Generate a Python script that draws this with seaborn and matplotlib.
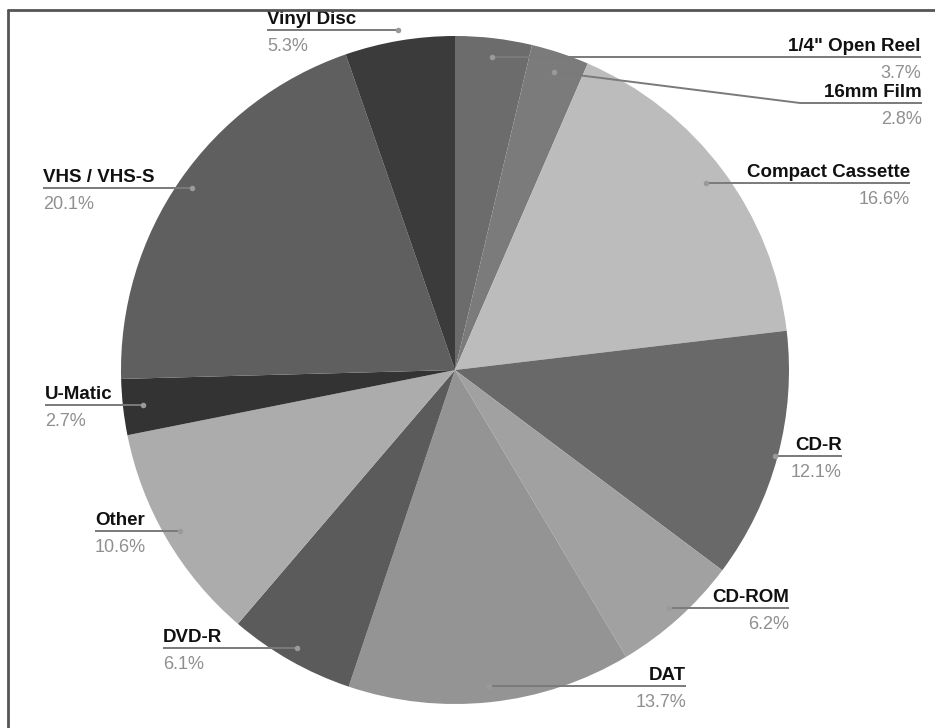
import numpy as np
import seaborn as sns
import matplotlib.pyplot as plt

# Share of holdings by media format (percent), clockwise from 12 o'clock
formats = ['1/4" Open Reel', '16mm Film', 'Compact Cassette', 'CD-R', 'CD-ROM',
           'DAT', 'DVD-R', 'Other', 'U-Matic', 'VHS / VHS-S', 'Vinyl Disc']
shares = [3.7, 2.8, 16.6, 12.1, 6.2, 13.7, 6.1, 10.6, 2.7, 20.1, 5.3]
grays = ['#6c6c6c', '#7b7b7b', '#bcbcbc', '#696969', '#a1a1a1', '#949494',
         '#5b5b5b', '#acacac', '#333333', '#5f5f5f', '#3b3b3b']

# label layout in pixels: (text edge x, underline y, side, knee x or None)
label_layout = {
    '1/4" Open Reel': (921, 57, 'right', None),
    '16mm Film': (922, 103, 'right', 800),
    'Compact Cassette': (910, 183, 'right', None),
    'CD-R': (842, 456, 'right', None),
    'CD-ROM': (789, 608, 'right', None),
    'DAT': (686, 686, 'right', None),
    'DVD-R': (163, 648, 'left', None),
    'Other': (95, 531, 'left', None),
    'U-Matic': (45, 405, 'left', None),
    'VHS / VHS-S': (43, 188, 'left', None),
    'Vinyl Disc': (267, 30, 'left', None),
}

sns.set_theme(style="white")
plt.rcParams['font.family'] = ['Liberation Sans', 'DejaVu Sans']

W, H = 935, 728
CX, CY, R = 455, 370, 334

fig = plt.figure(figsize=(W / 100, H / 100), dpi=100)
ax = fig.add_axes([0, 0, 1, 1])


def px(x, y):
    # pixel position -> data coords
    return (x - CX) / R, (CY - y) / R


wedges, _ = ax.pie(shares, colors=grays, startangle=90, counterclock=False,
                   radius=1.0, center=(0, 0), frame=False,
                   wedgeprops=dict(linewidth=0))
ax.set_xlim(-CX / R, (W - CX) / R)
ax.set_ylim((CY - H) / R, CY / R)
ax.set_aspect('auto')
ax.axis('off')

for w, name, val in zip(wedges, formats, shares):
    mid = np.deg2rad((w.theta1 + w.theta2) / 2)
    ex, uy, side, knee = label_layout[name]
    tx, ty = px(ex, uy)
    if knee is None:
        # dot sits on the slice's mid ray at the underline height
        dy = ty
        dx = dy * np.cos(mid) / np.sin(mid)
        xs, ys = [dx, tx], [dy, ty]
    else:
        dx, dy = 0.94 * np.cos(mid), 0.94 * np.sin(mid)
        kx, _ = px(knee, uy)
        xs, ys = [dx, kx, tx], [dy, ty, ty]
    ha = 'right' if side == 'right' else 'left'
    ax.plot(xs, ys, color='#7a7a7a', lw=1.4, solid_capstyle='butt', zorder=3)
    ax.plot([dx], [dy], 'o', color='#9a9a9a', ms=4, mec='none', zorder=4)
    ax.text(tx, ty + 6 / R, name, ha=ha, va='baseline', fontsize=13.5,
            fontweight='bold', color='#111111', zorder=5)
    ax.text(tx, ty - 21 / R, f'{val:.1f}%', ha=ha, va='baseline', fontsize=13,
            color='#8f8f8f', zorder=5)

# frame lines on left and top edges
fig.add_artist(plt.Line2D([8 / W, 8 / W], [0, 1 - 10 / H], color='#555555', lw=2))
fig.add_artist(plt.Line2D([8 / W, 1], [1 - 10 / H, 1 - 10 / H], color='#555555', lw=2))

fig.savefig('out.png', dpi=100, facecolor='white')
